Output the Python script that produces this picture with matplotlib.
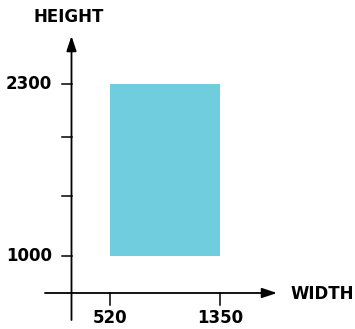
import matplotlib
matplotlib.use("Agg")
import matplotlib.pyplot as plt
from matplotlib.patches import Rectangle

# data
width_range = [520, 1350]
height_range = [1000, 2300]
x_ticks = [520, 1350]
x_tick_labels = ["520", "1350"]
y_ticks = [1000, 1450, 1900, 2300]
y_tick_labels = ["1000", "", "", "2300"]

W, H = 355, 329
fig = plt.figure(figsize=(W / 100, H / 100), dpi=100)
ax = fig.add_axes([0, 0, 1, 1])

# pixel <-> data mapping
sx = (1350 - 520) / (220 - 110)
sy = (2300 - 1000) / (256 - 84)
xmin = 520 - 110 * sx
xmax = 520 + (W - 110) * sx
ymax = 2300 + 84 * sy
ymin = 1000 - (H - 256) * sy
ax.set_xlim(xmin, xmax)
ax.set_ylim(ymin, ymax)
ax.axis("off")

def px2x(p):
    return xmin + p * sx

def px2y(p):
    return ymax - p * sy

col = "#70CDDD"
ax.add_patch(Rectangle((width_range[0], height_range[0]),
                       width_range[1] - width_range[0],
                       height_range[1] - height_range[0],
                       facecolor=col, edgecolor="none"))

x_axis_y = px2y(293)
y_axis_x = px2x(71.5)
lw = 1.3

# y axis with arrow
ax.annotate("", xy=(y_axis_x, px2y(36)), xytext=(y_axis_x, px2y(320)),
            arrowprops=dict(arrowstyle="-|>,head_length=0.9,head_width=0.3",
                            color="black", lw=lw, shrinkA=0, shrinkB=0))
# x axis with arrow
ax.annotate("", xy=(px2x(277), x_axis_y), xytext=(px2x(45), x_axis_y),
            arrowprops=dict(arrowstyle="-|>,head_length=0.9,head_width=0.3",
                            color="black", lw=lw, shrinkA=0, shrinkB=0))

font = dict(fontsize=12, fontweight="bold", family="DejaVu Sans", color="black")

# y ticks
for v, lab in zip(y_ticks, y_tick_labels):
    ax.plot([px2x(62), y_axis_x], [v, v], color="black", lw=1.1)
    if lab:
        ax.text(px2x(52), v, lab, ha="right", va="center", **font)

# x ticks
for v, lab in zip(x_ticks, x_tick_labels):
    ax.plot([v, v], [x_axis_y, px2y(305)], color="black", lw=1.1)
    ax.text(v, px2y(318), lab, ha="center", va="center", **font)

ax.text(px2x(69), px2y(17), "HEIGHT", ha="center", va="center", **font)
ax.text(px2x(322), px2y(294), "WIDTH", ha="center", va="center", **font)

fig.savefig("out.png", dpi=100)
